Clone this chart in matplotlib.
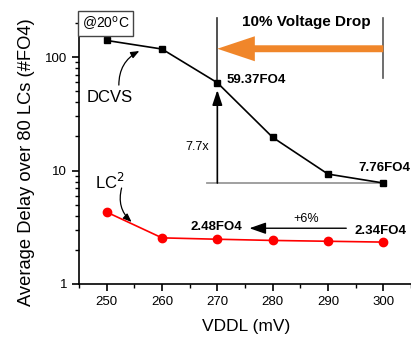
import matplotlib
matplotlib.use("Agg")
import matplotlib.pyplot as plt

plt.rcParams['font.family'] = ['Liberation Sans', 'DejaVu Sans']

vddl = [250, 260, 270, 280, 290, 300]
dcvs = [140, 117.6, 59.37, 19.6, 9.3, 7.76]
lc2 = [4.3, 2.55, 2.48, 2.42, 2.38, 2.34]

fig = plt.figure(figsize=(4.11, 3.37), dpi=100)
ax = fig.add_axes([79/411, 53/337, 332/411, 264/337])

ax.plot(vddl, dcvs, color='black', lw=1.2, marker='s', ms=5, zorder=5)
ax.plot(vddl, lc2, color='red', lw=1.2, marker='o', ms=6, zorder=5)

ax.set_yscale('log')
ax.set_xlim(245, 305)
ax.set_ylim(1, 212)
ax.set_xticks([250, 260, 270, 280, 290, 300])
ax.set_xticks([245, 255, 265, 275, 285, 295, 305], minor=True)
ax.set_yticks([1, 10, 100])
ax.set_yticklabels(['1', '10', '100'])
for s in ['top', 'right']:
    ax.spines[s].set_visible(False)
for s in ['left', 'bottom']:
    ax.spines[s].set_linewidth(1.2)
ax.tick_params(which='major', length=5, width=1.2, labelsize=9.5, direction='out')
ax.tick_params(which='minor', length=3, width=1.0, direction='out')
fig.text(246/411, 10/337, 'VDDL (mV)', fontsize=12.5, ha='center', va='center')
fig.text(27/411, (337-162.5)/337, 'Average Delay over 80 LCs (#FO4)', fontsize=13.2,
         rotation=90, ha='center', va='center')

# 10% voltage drop region
ax.plot([270, 270], [59.37, 220], color='#333333', lw=1.2, clip_on=False, zorder=3)
ax.plot([300, 300], [65.3, 220], color='#555555', lw=1.2, clip_on=False, zorder=3)
ax.annotate('', xy=(270, 118.3), xytext=(300, 118.3),
            arrowprops=dict(arrowstyle='simple,head_length=27,head_width=18,tail_width=5',
                            mutation_scale=1, color='#F0862A', lw=0,
                            shrinkA=0, shrinkB=0))
ax.text(286.1, 203, '10% Voltage Drop', fontsize=11, fontweight='bold',
        ha='center', va='center')

# 7.7x
ax.plot([268.05, 300.36], [7.76, 7.76], color='#999999', lw=1.3, clip_on=False, zorder=2)
ax.annotate('', xy=(270, 51.2), xytext=(270, 7.76),
            arrowprops=dict(arrowstyle='-|>,head_length=0.9,head_width=0.3',
                            color='black', lw=1.2, shrinkA=0, shrinkB=0))
ax.text(266.4, 16.2, '7.7x', fontsize=9, ha='center', va='center')
ax.text(271.7, 62.7, '59.37FO4', fontsize=9.5, fontweight='bold', ha='left', va='center')
ax.text(295.5, 10.5, '7.76FO4', fontsize=9.5, fontweight='bold', ha='left', va='center')

# +6%
ax.annotate('', xy=(275.8, 3.10), xytext=(293.3, 3.10),
            arrowprops=dict(arrowstyle='-|>,head_length=1.0,head_width=0.35',
                            color='black', lw=1.0, shrinkA=0, shrinkB=0))
ax.text(286.0, 3.72, '+6%', fontsize=9, ha='center', va='center')
ax.text(269.9, 3.16, '2.48FO4', fontsize=9.5, fontweight='bold', ha='center', va='center')
ax.text(299.5, 2.93, '2.34FO4', fontsize=9.5, fontweight='bold', ha='center', va='center')

# series labels
ax.text(250.5, 44.4, 'DCVS', fontsize=12, ha='center', va='center')
ax.annotate('', xy=(255.9, 113.0), xytext=(252.2, 56.6),
            arrowprops=dict(arrowstyle='-|>,head_length=0.5,head_width=0.2',
                            connectionstyle='arc3,rad=-0.3',
                            color='black', lw=0.9, shrinkA=0, shrinkB=0))
ax.text(250.5, 7.9, 'LC$^2$', fontsize=12, ha='center', va='center')
ax.annotate('', xy=(254.5, 3.52), xytext=(252.7, 7.01),
            arrowprops=dict(arrowstyle='-|>,head_length=0.5,head_width=0.2',
                            connectionstyle='arc3,rad=0.3',
                            color='black', lw=0.9, shrinkA=0, shrinkB=0))

ax.text(249.8, 199, '@20$^{\\rm o}$C', fontsize=10, ha='center', va='center',
        bbox=dict(boxstyle='square,pad=0.25', fc='white', ec='#444444', lw=1.0), zorder=6)

fig.savefig('out.png', dpi=100)
